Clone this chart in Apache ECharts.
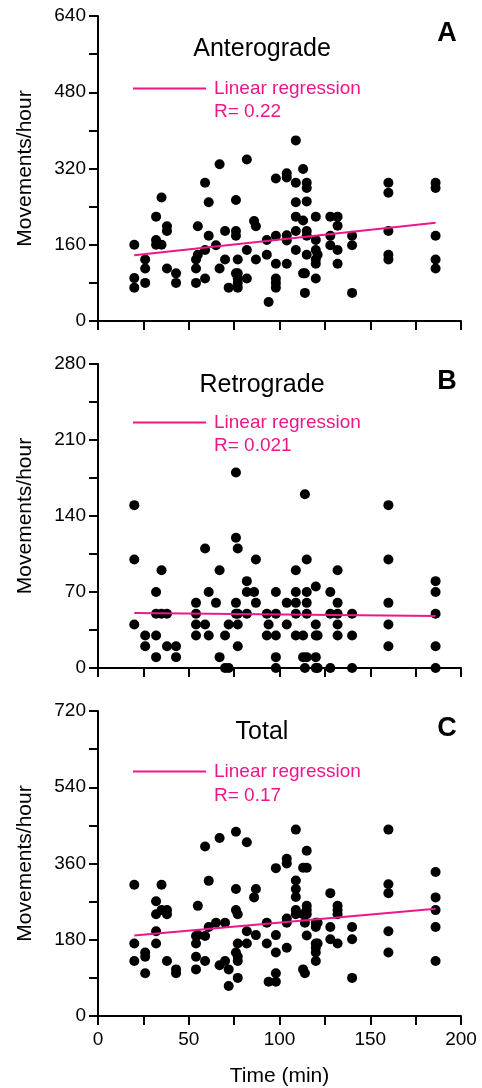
<!DOCTYPE html>
<html>
<head>
<meta charset="utf-8">
<script src="https://cdn.jsdelivr.net/npm/echarts@6/dist/echarts.min.js"></script>
<style>
html, body { margin: 0; padding: 0; background: #fff; }
#chart { width: 482px; height: 1088px; }
</style>
</head>
<body>
<div id="chart"></div>
<script>
// [time (min), movements/hour]
var anterograde = [
  [20,160],[20,90],[20,70],[26,129],[26,110],[26,80],[32,219],[32,170],[32,160],[35,259],[35,160],
  [38,199],[38,189],[38,110],[43,100],[43,80],[54,129],[54,110],[54,80],[55,199],[55,139],
  [59,290],[59,149],[59,89],[61,249],[61,179],[65,159],[67,329],[67,110],[70,189],[70,129],[72,70],
  [76,254],[76,189],[76,179],[76,100],[77,129],[77,100],[77,89],[77,80],[77,70],
  [82,339],[82,149],[82,89],[86,210],[87,199],[87,129],[93,170],[93,139],[94,40],
  [98,299],[98,179],[98,120],[98,89],[98,80],[98,70],[104,310],[104,301],[104,180],[104,169],[104,120],
  [109,379],[109,290],[109,249],[109,219],[109,189],[109,149],[113,319],[113,211],[113,100],[114,100],[114,59],
  [115,290],[115,279],[115,251],[115,189],[115,179],[115,139],[120,219],[120,170],[120,149],[120,129],[120,120],[120,89],
  [121,139],[128,219],[128,179],[128,159],[132,219],[132,200],[132,149],[132,120],[140,179],[140,159],[140,59],
  [160,290],[160,269],[160,189],[160,139],[160,129],[186,290],[186,279],[186,179],[186,129],[186,110]
];
var retrograde = [
  [20,150],[20,100],[20,40],[26,30],[26,20],[32,70],[32,50],[32,30],[32,10],[35,90],[35,50],
  [38,50],[38,20],[43,20],[43,10],[54,60],[54,50],[54,40],[54,30],[59,110],[59,40],[61,70],[61,30],
  [65,60],[67,90],[67,10],[70,30],[70,0],[72,0],[72,40],[76,180],[76,120],[76,60],[76,50],
  [77,110],[77,50],[77,40],[77,20],[82,80],[82,70],[82,50],[86,70],[87,100],[87,60],[93,50],[93,30],[94,40],
  [98,70],[98,50],[98,30],[98,10],[98,0],[104,60],[104,40],[109,90],[109,70],[109,60],[109,50],[109,30],
  [113,30],[113,10],[114,160],[114,0],[115,100],[115,70],[115,60],[115,50],[115,10],
  [120,75],[120,40],[120,30],[120,10],[120,0],[121,30],[121,0],[128,70],[128,50],[128,0],
  [132,90],[132,60],[132,50],[132,40],[132,30],[140,50],[140,30],[140,0],
  [160,150],[160,100],[160,60],[160,40],[160,20],[186,80],[186,70],[186,50],[186,20],[186,0]
];
var total = [
  [20,310],[20,171],[20,130],[26,150],[26,140],[26,101],[32,271],[32,240],[32,200],[32,171],[35,310],[35,250],
  [38,250],[38,240],[38,130],[43,110],[43,101],[54,171],[54,189],[54,140],[54,110],[55,260],[55,191],
  [59,400],[59,189],[59,130],[61,319],[61,210],[65,220],[67,420],[67,120],[70,220],[70,130],[72,110],[72,71],
  [76,435],[76,300],[76,250],[76,150],[77,240],[77,171],[77,140],[77,130],[77,90],
  [82,410],[82,200],[82,171],[86,280],[87,300],[87,191],[93,220],[93,171],[94,81],
  [98,349],[98,191],[98,150],[98,101],[98,81],[104,371],[104,360],[104,230],[104,220],[104,161],
  [109,440],[109,320],[109,300],[109,281],[109,250],[109,240],[113,350],[113,240],[113,110],[114,220],[114,101],
  [115,390],[115,350],[115,260],[115,250],[115,240],[115,190],[120,220],[120,210],[120,171],[120,161],[120,150],[120,130],
  [121,220],[121,171],[128,290],[128,210],[128,181],[132,260],[132,250],[132,240],[132,171],[140,210],[140,181],[140,90],
  [160,440],[160,311],[160,290],[160,200],[160,150],[186,340],[186,280],[186,250],[186,210],[186,130]
];

// regression line end points
var regAntero = [[20,138],[186,206]];
var regRetro = [[20,50.6],[186,48]];
var regTotal = [[20,190],[186,253]];

var panelNames = ['Anterograde', 'Retrograde', 'Total'];
var panelLetters = ['A', 'B', 'C'];
var rLabels = ['R= 0.22', 'R= 0.021', 'R= 0.17'];
var yMax = [640, 280, 720];
var yStep = [80, 35, 90];
var xTicks = [0, 50, 100, 150, 200];

var points = [anterograde, retrograde, total];
var regs = [regAntero, regRetro, regTotal];

var pink = '#ec178b';
var font = 'Liberation Sans, Arial, sans-serif';

// panel layout (pixels)
var layout = [
  {top: 16, height: 305, titleY: 49, letterY: 34, legendY: 89, rY: 112},
  {top: 364, height: 304, titleY: 385, letterY: 382, legendY: 423, rY: 446},
  {top: 711, height: 305, titleY: 732, letterY: 729, legendY: 772, rY: 796}
];

var myChart = echarts.init(document.getElementById('chart'));

var grid = [], xAxis = [], yAxis = [], series = [], title = [], legend = [];

layout.forEach(function(p, i) {
  grid.push({left: 98, width: 363, top: p.top, height: p.height});

  xAxis.push({
    type: 'value', gridIndex: i, min: 0, max: 200, interval: 25,
    name: i === 2 ? 'Time (min)' : '',
    nameLocation: 'middle', nameGap: 50,
    nameTextStyle: {fontSize: 21, color: '#000', fontFamily: font},
    axisLine: {show: true, lineStyle: {color: '#000', width: 2}},
    axisTick: {show: true, length: 9, lineStyle: {color: '#000', width: 2}},
    axisLabel: {
      show: i === 2, fontSize: 19, color: '#000', fontFamily: font, margin: 14,
      formatter: function(v) { return xTicks.indexOf(v) >= 0 ? String(v) : ''; }
    },
    splitLine: {show: false}
  });

  var step = yStep[i];
  yAxis.push({
    type: 'value', gridIndex: i, min: 0, max: yMax[i], interval: step,
    name: 'Movements/hour', nameLocation: 'middle', nameGap: 62,
    nameTextStyle: {fontSize: 21, color: '#000', fontFamily: font},
    axisLine: {show: true, lineStyle: {color: '#000', width: 2}},
    axisTick: {show: true, length: 9, lineStyle: {color: '#000', width: 2}},
    axisLabel: {
      fontSize: 19, color: '#000', fontFamily: font, margin: 12,
      formatter: function(v) { return v % (2 * step) === 0 ? String(v) : ''; }
    },
    splitLine: {show: false}
  });

  series.push({
    type: 'scatter', xAxisIndex: i, yAxisIndex: i,
    symbolSize: 10, itemStyle: {color: '#000', opacity: 1},
    data: points[i]
  });
  series.push({
    name: 'Linear regression', type: 'line', xAxisIndex: i, yAxisIndex: i,
    symbol: 'none', color: pink, itemStyle: {color: pink},
    lineStyle: {color: pink, width: 2}, z: 3,
    data: regs[i]
  });

  title.push({
    text: panelNames[i], left: 262, top: p.titleY, textAlign: 'center', textVerticalAlign: 'middle',
    padding: 0,
    textStyle: {fontSize: 25, fontWeight: 'normal', color: '#000', fontFamily: font}
  });
  title.push({
    text: panelLetters[i], left: 447, top: p.letterY, textAlign: 'center', textVerticalAlign: 'middle',
    padding: 0,
    textStyle: {fontSize: 27, fontWeight: 'bold', color: '#000', fontFamily: font}
  });
  title.push({
    text: rLabels[i], left: 214, top: p.rY, textVerticalAlign: 'middle',
    padding: 0,
    textStyle: {fontSize: 19, fontWeight: 'normal', color: pink, fontFamily: font}
  });

  legend.push({
    data: ['Linear regression'], left: 133, top: p.legendY - 10, padding: 0,
    icon: 'path://M0,0h73v2h-73z',
    itemWidth: 73, itemHeight: 20, itemGap: 0,
    itemStyle: {color: pink},
    textStyle: {fontSize: 19, color: pink, fontFamily: font, padding: [0, 0, 0, 3]}
  });
});

myChart.setOption({
  animation: false,
  grid: grid,
  xAxis: xAxis,
  yAxis: yAxis,
  title: title,
  legend: legend,
  series: series
});
</script>
</body>
</html>
